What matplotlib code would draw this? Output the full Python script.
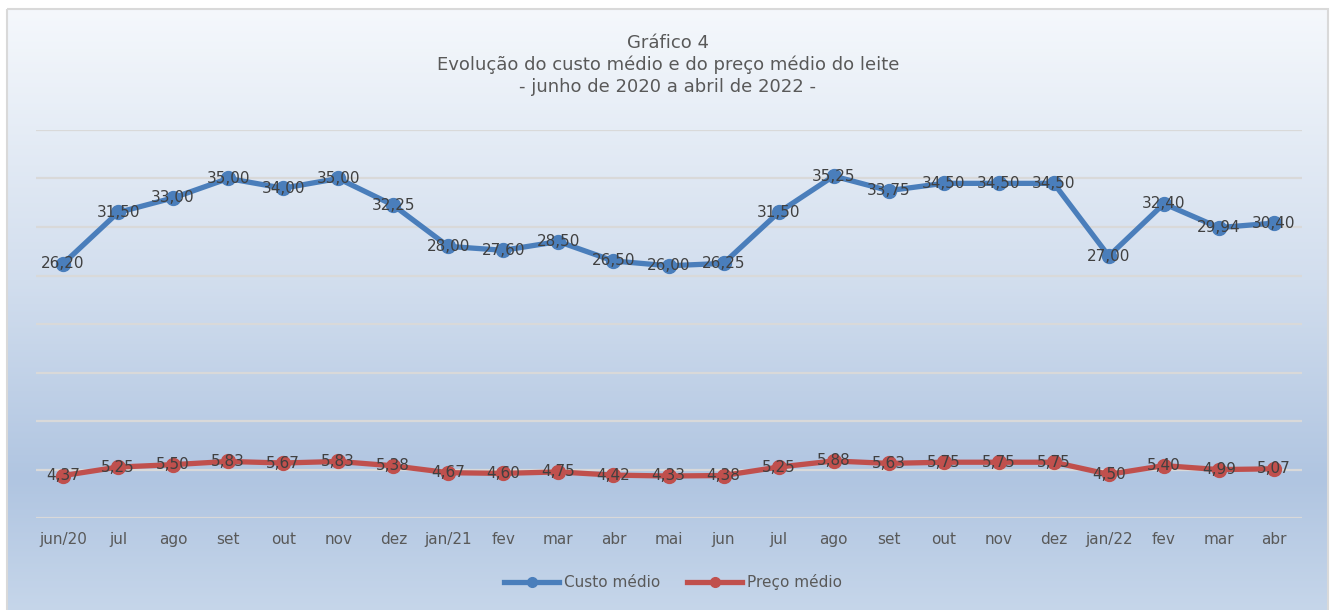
import numpy as np
import matplotlib
matplotlib.use('Agg')
import matplotlib.pyplot as plt
from matplotlib.colors import LinearSegmentedColormap
from matplotlib.patches import Rectangle

meses = ['jun/20', 'jul', 'ago', 'set', 'out', 'nov', 'dez', 'jan/21', 'fev', 'mar',
         'abr', 'mai', 'jun', 'jul', 'ago', 'set', 'out', 'nov', 'dez', 'jan/22',
         'fev', 'mar', 'abr']
custo = [26.20, 31.50, 33.00, 35.00, 34.00, 35.00, 32.25, 28.00, 27.60, 28.50,
         26.50, 26.00, 26.25, 31.50, 35.25, 33.75, 34.50, 34.50, 34.50, 27.00,
         32.40, 29.94, 30.40]
preco = [4.37, 5.25, 5.50, 5.83, 5.67, 5.83, 5.38, 4.67, 4.60, 4.75,
         4.42, 4.33, 4.38, 5.25, 5.88, 5.63, 5.75, 5.75, 5.75, 4.50,
         5.40, 4.99, 5.07]

azul = '#4a7ebb'
vermelho = '#c0504d'
cinza = '#595959'

fig = plt.figure(figsize=(13.33, 6.10), dpi=100)

# fundo em degradê dentro da moldura
bg = fig.add_axes([0, 0, 1, 1], zorder=0)
bg.set_xlim(0, 1333)
bg.set_ylim(610, 0)
bg.axis('off')
cmap = LinearSegmentedColormap.from_list('fundo', [
    (0.0, '#f5f8fc'), (0.45, '#d2deee'), (0.78, '#b0c5e1'), (1.0, '#c6d6ea')])
grad = np.linspace(0, 1, 256).reshape(-1, 1)
bg.imshow(grad, cmap=cmap, aspect='auto', extent=[7, 1328, 612, 9], zorder=0)
bg.add_patch(Rectangle((7, 9), 1321, 610, fill=False, edgecolor='#d9d9d9', lw=1.5, zorder=1))

ax = fig.add_axes([35.5 / 1333, 92 / 610, 1266 / 1333, 388 / 610], zorder=2)
ax.patch.set_alpha(0)
x = np.arange(len(meses))

ax.plot(x, custo, color=azul, lw=3.8, marker='o', ms=10, label='Custo médio', zorder=3)
ax.plot(x, preco, color=vermelho, lw=3.8, marker='o', ms=10, label='Preço médio', zorder=3)

for xi, v in zip(x, custo):
    ax.text(xi, v, f'{v:.2f}'.replace('.', ','), ha='center', va='center',
            fontsize=11, color='#404040', zorder=4)
for xi, v in zip(x, preco):
    ax.text(xi, v, f'{v:.2f}'.replace('.', ','), ha='center', va='center',
            fontsize=11, color='#404040', zorder=4)

ax.set_xlim(-0.5, len(meses) - 0.5)
ax.set_ylim(0, 40)
ax.set_yticks(np.arange(0, 41, 5))
ax.set_yticklabels([])
ax.set_xticks(x)
ax.set_xticklabels(meses, fontsize=11, color=cinza)
ax.tick_params(length=0, pad=10)
ax.tick_params(axis='y', length=0)
ax.grid(axis='y', color='#d9d9d9', lw=1.6, zorder=1)
ax.set_axisbelow(True)
for s in ax.spines.values():
    s.set_visible(False)

fig.text(0.501, 1 - 43 / 610, 'Gráfico 4', ha='center', va='center', fontsize=13, color=cinza)
fig.text(0.501, 1 - 65 / 610, 'Evolução do custo médio e do preço médio do leite',
         ha='center', va='center', fontsize=13, color=cinza)
fig.text(0.501, 1 - 87 / 610, '- junho de 2020 a abril de 2022 -',
         ha='center', va='center', fontsize=13, color=cinza)

leg = ax.legend(loc='center', bbox_to_anchor=(673 / 1333, 1 - 582 / 610),
                bbox_transform=fig.transFigure, ncol=2, frameon=False,
                fontsize=11, handlelength=3.6, handletextpad=0.3, columnspacing=1.8,
                markerscale=0.7)
for t in leg.get_texts():
    t.set_color(cinza)

fig.savefig('out.png', dpi=100)
